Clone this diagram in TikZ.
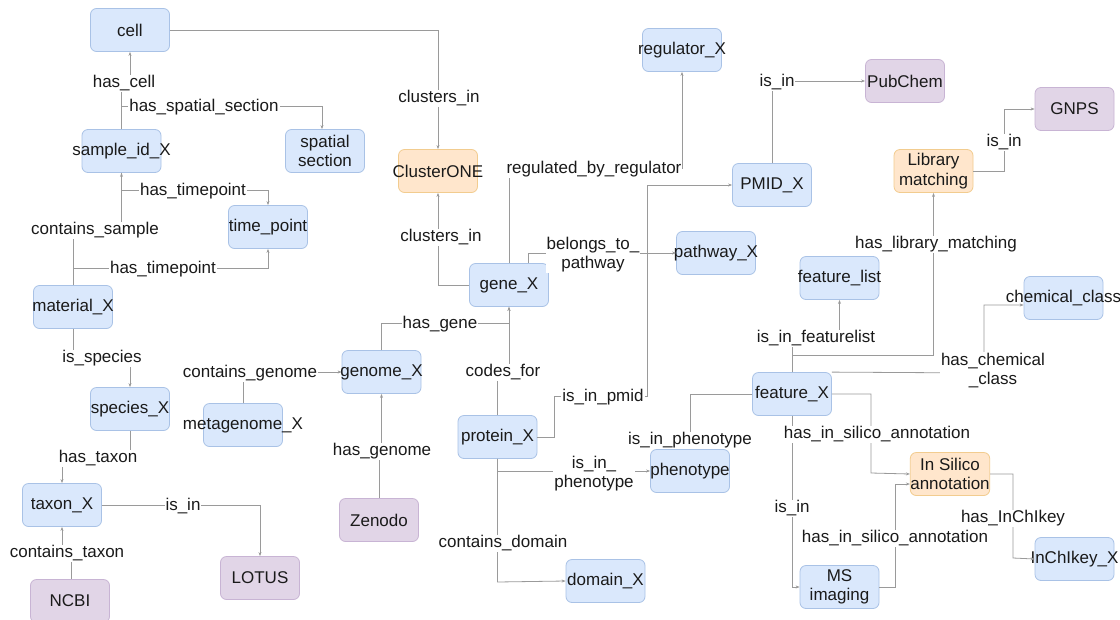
\documentclass[tikz,border=0pt]{standalone}
\usepackage{fontspec}
\setmainfont{Liberation Sans}
\usetikzlibrary{arrows.meta}
\definecolor{bfill}{HTML}{DAE8FC}
\definecolor{bdraw}{HTML}{A9C2E6}
\definecolor{ofill}{HTML}{FFE6CC}
\definecolor{odraw}{HTML}{F2CC8F}
\definecolor{pfill}{HTML}{E1D5E7}
\definecolor{pdraw}{HTML}{C8B4D4}
\definecolor{lcol}{HTML}{9A9A9A}
\definecolor{tcol}{HTML}{1A1A1A}
\newcommand\nodetxt[1]{\makebox[0pt][c]{#1}}
\tikzset{
  every node/.style={font=\fontsize{17}{19.5}\selectfont, text=tcol},
  box/.style={rounded corners=6pt, minimum width=79pt, minimum height=43pt, inner sep=0pt, align=center, line width=0.8pt},
  bbox/.style={box, fill=bfill, draw=bdraw},
  obox/.style={box, fill=ofill, draw=odraw},
  pbox/.style={box, fill=pfill, draw=pdraw},
  lbl/.style={fill=white, inner sep=1pt, align=center, yshift=-1.5pt},
  edge/.style={draw=lcol, line width=0.8pt, -{Stealth[length=4pt,width=3pt]}},
}
\begin{document}
\begin{tikzpicture}[x=1pt,y=-1pt]
\useasboundingbox[fill=white] (0,0) rectangle (1120,619);
% nodes
\node[bbox] (cell) at (130,30) {\nodetxt{cell}};
\node[bbox] (sample) at (121.5,151) {\nodetxt{sample\_id\_X}};
\node[bbox] (spatial) at (325,151) {spatial\\section};
\node[bbox] (timept) at (268,227) {\nodetxt{time\_point}};
\node[bbox] (material) at (73,307) {\nodetxt{material\_X}};
\node[bbox] (species) at (130,409) {\nodetxt{species\_X}};
\node[bbox] (taxon) at (62,505) {\nodetxt{taxon\_X}};
\node[pbox] (ncbi) at (70,601) {\nodetxt{NCBI}};
\node[pbox] (lotus) at (260,578) {\nodetxt{LOTUS}};
\node[bbox] (metagenome) at (243,425) {\nodetxt{metagenome\_X}};
\node[bbox] (genome) at (381.5,372) {\nodetxt{genome\_X}};
\node[pbox] (zenodo) at (379,520) {\nodetxt{Zenodo}};
\node[obox] (clusterone) at (438,171) {\nodetxt{ClusterONE}};
\node[bbox] (gene) at (509,285) {\nodetxt{gene\_X}};
\node[bbox] (regulator) at (682,50) {\nodetxt{regulator\_X}};
\node[bbox] (pathway) at (716,253) {\nodetxt{pathway\_X}};
\node[bbox] (pmid) at (772,185) {\nodetxt{PMID\_X}};
\node[pbox] (pubchem) at (905,81) {\nodetxt{PubChem}};
\node[bbox] (protein) at (497.5,437) {\nodetxt{protein\_X}};
\node[bbox] (phenotype) at (690,471) {\nodetxt{phenotype}};
\node[bbox] (domain) at (605.5,581) {\nodetxt{domain\_X}};
\node[pbox] (gnps) at (1074.5,109) {\nodetxt{GNPS}};
\node[obox] (library) at (933.5,171) {Library\\matching};
\node[bbox] (featlist) at (839.5,278) {\nodetxt{feature\_list}};
\node[bbox] (feature) at (792,394) {\nodetxt{feature\_X}};
\node[bbox] (chemclass) at (1063.5,298) {\nodetxt{chemical\_class}};
\node[obox] (insilico) at (950,474) {In Silico\\annotation};
\node[bbox] (msimg) at (839.5,587) {MS\\imaging};
\node[bbox] (inchikey) at (1074.5,559) {\nodetxt{InChIkey\_X}};
% edges
\draw[edge] (sample.north) -- (121.5,82) -- (130,82) -- (cell.south);
\draw[edge] (sample.north) -- (121.5,106) -- (322,106) -- ([xshift=-3]spatial.north);
\draw[edge] (sample.south) -- (121.5,190) -- (268,190) -- (timept.north);
\draw[edge] (material.north) -- (73,229) -- (121.5,229) -- (sample.south);
\draw[edge] (material.north) -- (73,268) -- (268,268) -- (timept.south);
\draw[edge] (material.south) -- (73,357) -- (130,357) -- (species.north);
\draw[edge] (species.south) -- (130,457) -- (62,457) -- (taxon.north);
\draw[edge] ([xshift=1]ncbi.north) -- (71,552) -- (62,552) -- (taxon.south);
\draw[edge] (taxon.east) -- (260,505) -- (lotus.north);
\draw[edge] (metagenome.north) -- (243,372) -- (genome.west);
\draw[edge] (zenodo.north) -- (379,450) -- (381.5,450) -- (genome.south);
\draw[edge] (genome.north) -- (381.5,323) -- (509,323) -- (gene.south);
\draw[edge] (protein.north) -- (497.5,371) -- (509,371) -- (gene.south);
\draw[edge] (cell.east) -- (438,30) -- (clusterone.north);
\draw[edge] (gene.west) -- (438,285) -- (clusterone.south);
\draw[edge] (gene.north) -- (509,168) -- (682,168) -- (regulator.south);
\draw[edge] ([xshift=19]gene.north) -- (528,253) -- (pathway.west);
\draw[edge] (protein.east) -- (554,437) -- (554,396) -- (647,396) -- (647,185) -- (pmid.west);
\draw[edge] (pmid.north) -- (772,81) -- (pubchem.west);
\draw[edge] (protein.south) -- (497.5,471) -- (phenotype.west);
\draw[edge] (protein.south) -- (497.5,582) -- (domain.west);
\draw[edge] (feature.west) -- (690,394) -- (phenotype.north);
\draw[edge] (feature.north) -- (792,337) -- (839.5,337) -- (featlist.south);
\draw[edge] (feature.north) -- (792,355) -- (933.5,355) -- (library.south);
\draw[edge] (library.east) -- (1004,171) -- (1004,109) -- (gnps.west);
\draw[edge] (feature.north east) -- (984,373) -- (984,305) -- ([yshift=-7]chemclass.west);
\draw[edge] (feature.east) -- (871,394) -- (871,473) -- (insilico.west);
\draw[edge] (msimg.east) -- (895,587) -- (895,484) -- ([yshift=-10]insilico.west);
\draw[edge] (feature.south) -- (792,587) -- (msimg.west);
\draw[edge] (insilico.east) -- (1013,474) -- (1013,558) -- (inchikey.west);
% labels
\node[lbl] (l1) at (124,82) {has\_cell};
\node[lbl] (l2) at (204,106) {has\_spatial\_section};
\node[lbl] (l3) at (193,190) {has\_timepoint};
\node[lbl] (l4) at (95,229) {contains\_sample};
\node[lbl] (l5) at (163,268) {has\_timepoint};
\node[lbl] (l6) at (102,357) {is\_species};
\node[lbl] (l7) at (98,457) {has\_taxon};
\node[lbl] (l8) at (67,552) {contains\_taxon};
\node[lbl] (l9) at (183,505) {is\_in};
\node[lbl] (l10) at (250,372) {contains\_genome};
\node[lbl] (l11) at (382,450) {has\_genome};
\node[lbl] (l12) at (440,323) {has\_gene};
\node[lbl] (l13) at (503,371) {codes\_for};
\node[lbl] (l14) at (439,97) {clusters\_in};
\node[lbl] (l15) at (441,236) {clusters\_in};
\node[lbl] (l16) at (594,168) {regulated\_by\_regulator};
\node[lbl] (l17) at (593,253) {belongs\_to\_\\pathway};
\node[lbl] (l18) at (603,396) {is\_in\_pmid};
\node[lbl] (l19) at (777,81) {is\_in};
\node[lbl] (l20) at (594,472) {is\_in\_\\phenotype};
\node[lbl] (l21) at (503,542) {contains\_domain};
\node[lbl] (l22) at (690,439) {is\_in\_phenotype};
\node[lbl] (l23) at (816,337) {is\_in\_featurelist};
\node[lbl] (l24) at (936,243) {has\_library\_matching};
\node[lbl] (l25) at (1004,141) {is\_in};
\node[lbl] (l26) at (993,369) {has\_chemical\\\_class};
\node[lbl] (l27) at (877,433) {has\_in\_silico\_annotation};
\node[lbl] (l28) at (895,537) {has\_in\_silico\_annotation};
\node[lbl] (l29) at (792,507) {is\_in};
\node[lbl] (l30) at (1013,517) {has\_InChIkey};
\end{tikzpicture}
\end{document}
